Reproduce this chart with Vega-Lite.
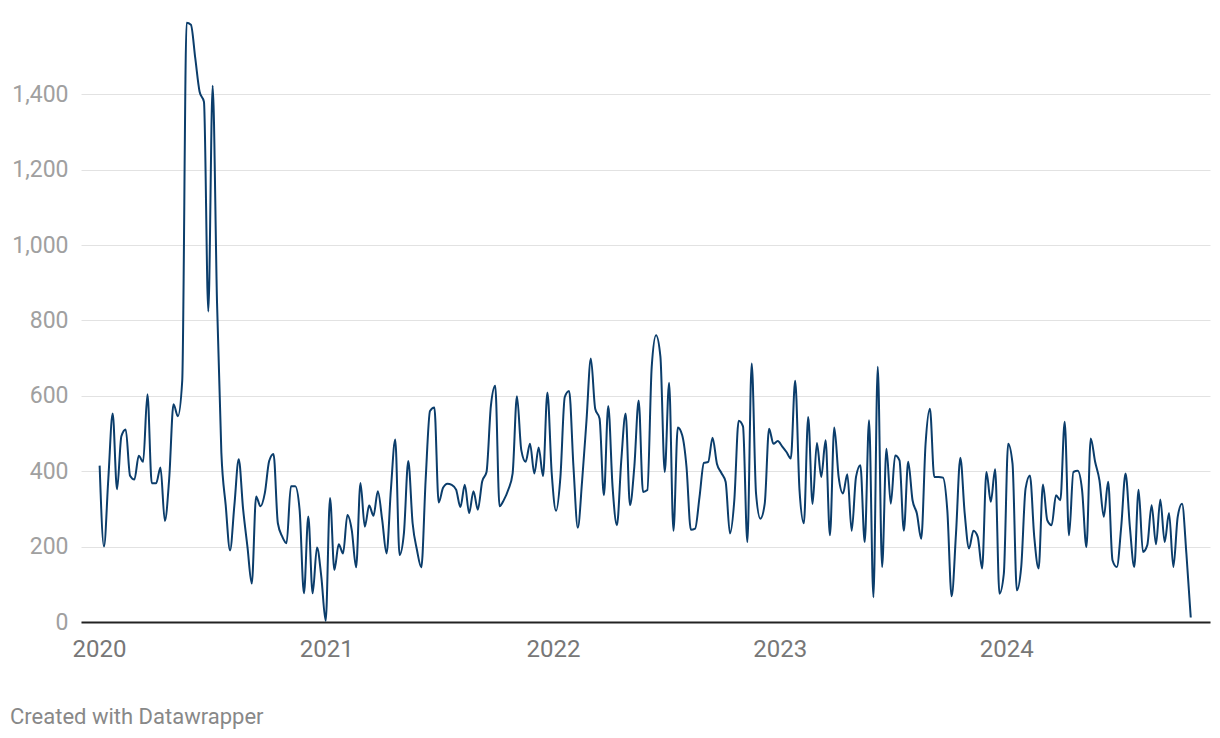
{
 "$schema": "https://vega.github.io/schema/vega-lite/v6.json",
 "width": 1129, "height": 600,
 "autosize": {"type": "none"},
 "padding": {"left": 81, "top": 22, "right": 10, "bottom": 116},
 "background": "white",
 "config": {"view": {"stroke": null}, "font": "Roboto"},
 "title": {"text": "Created with Datawrapper", "orient": "bottom", "anchor": "start", "frame": "group", "dx": -71, "offset": 46, "fontSize": 22, "fontWeight": "normal", "color": "#888888", "font": "Roboto"},
 "data": {"values": [
{"d":"2020-01-02","v":415},{"d":"2020-01-09","v":200},{"d":"2020-01-16","v":380},{"d":"2020-01-23","v":553},{"d":"2020-01-30","v":352},
{"d":"2020-02-06","v":493},{"d":"2020-02-13","v":511},{"d":"2020-02-20","v":388},{"d":"2020-02-27","v":378},
{"d":"2020-03-05","v":441},{"d":"2020-03-12","v":425},{"d":"2020-03-19","v":604},{"d":"2020-03-26","v":368},
{"d":"2020-04-02","v":368},{"d":"2020-04-09","v":410},{"d":"2020-04-16","v":268},{"d":"2020-04-23","v":380},{"d":"2020-04-30","v":578},
{"d":"2020-05-07","v":546},{"d":"2020-05-14","v":640},{"d":"2020-05-21","v":1590},{"d":"2020-05-28","v":1585},
{"d":"2020-06-04","v":1496},{"d":"2020-06-11","v":1407},{"d":"2020-06-18","v":1380},{"d":"2020-06-25","v":824},
{"d":"2020-07-02","v":1423},{"d":"2020-07-09","v":850},{"d":"2020-07-16","v":450},{"d":"2020-07-23","v":310},{"d":"2020-07-30","v":190},
{"d":"2020-08-06","v":310},{"d":"2020-08-13","v":432},{"d":"2020-08-20","v":300},{"d":"2020-08-27","v":200},
{"d":"2020-09-03","v":102},{"d":"2020-09-10","v":333},{"d":"2020-09-17","v":307},{"d":"2020-09-24","v":342},
{"d":"2020-10-01","v":427},{"d":"2020-10-08","v":446},{"d":"2020-10-15","v":262},{"d":"2020-10-22","v":227},{"d":"2020-10-29","v":209},
{"d":"2020-11-05","v":360},{"d":"2020-11-12","v":360},{"d":"2020-11-19","v":298},{"d":"2020-11-26","v":76},
{"d":"2020-12-03","v":280},{"d":"2020-12-10","v":76},{"d":"2020-12-17","v":198},{"d":"2020-12-24","v":120},{"d":"2020-12-31","v":3},
{"d":"2021-01-07","v":329},{"d":"2021-01-14","v":138},{"d":"2021-01-21","v":206},{"d":"2021-01-28","v":182},
{"d":"2021-02-04","v":284},{"d":"2021-02-11","v":244},{"d":"2021-02-18","v":145},{"d":"2021-02-25","v":369},
{"d":"2021-03-04","v":253},{"d":"2021-03-11","v":309},{"d":"2021-03-18","v":282},{"d":"2021-03-25","v":347},
{"d":"2021-04-01","v":271},{"d":"2021-04-08","v":182},{"d":"2021-04-15","v":351},{"d":"2021-04-22","v":484},{"d":"2021-04-29","v":178},
{"d":"2021-05-06","v":236},{"d":"2021-05-13","v":427},{"d":"2021-05-20","v":262},{"d":"2021-05-27","v":191},
{"d":"2021-06-03","v":145},{"d":"2021-06-10","v":378},{"d":"2021-06-17","v":560},{"d":"2021-06-24","v":569},
{"d":"2021-07-01","v":317},{"d":"2021-07-08","v":356},{"d":"2021-07-15","v":367},{"d":"2021-07-22","v":364},{"d":"2021-07-29","v":351},
{"d":"2021-08-05","v":305},{"d":"2021-08-12","v":364},{"d":"2021-08-19","v":289},{"d":"2021-08-26","v":347},
{"d":"2021-09-02","v":298},{"d":"2021-09-09","v":373},{"d":"2021-09-16","v":398},{"d":"2021-09-23","v":573},{"d":"2021-09-30","v":627},
{"d":"2021-10-07","v":307},{"d":"2021-10-14","v":324},{"d":"2021-10-21","v":351},{"d":"2021-10-28","v":394},
{"d":"2021-11-04","v":599},{"d":"2021-11-11","v":456},{"d":"2021-11-18","v":425},{"d":"2021-11-25","v":473},
{"d":"2021-12-02","v":394},{"d":"2021-12-09","v":463},{"d":"2021-12-16","v":387},{"d":"2021-12-23","v":609},{"d":"2021-12-30","v":394},
{"d":"2022-01-06","v":295},{"d":"2022-01-13","v":385},{"d":"2022-01-20","v":597},{"d":"2022-01-27","v":613},
{"d":"2022-02-03","v":412},{"d":"2022-02-10","v":250},{"d":"2022-02-17","v":376},{"d":"2022-02-24","v":535},
{"d":"2022-03-03","v":699},{"d":"2022-03-10","v":566},{"d":"2022-03-17","v":540},{"d":"2022-03-24","v":336},{"d":"2022-03-31","v":573},
{"d":"2022-04-07","v":358},{"d":"2022-04-14","v":257},{"d":"2022-04-21","v":429},{"d":"2022-04-28","v":553},
{"d":"2022-05-05","v":310},{"d":"2022-05-12","v":412},{"d":"2022-05-19","v":588},{"d":"2022-05-26","v":345},
{"d":"2022-06-02","v":350},{"d":"2022-06-09","v":677},{"d":"2022-06-16","v":761},{"d":"2022-06-23","v":704},{"d":"2022-06-30","v":398},
{"d":"2022-07-07","v":635},{"d":"2022-07-14","v":242},{"d":"2022-07-21","v":516},{"d":"2022-07-28","v":496},
{"d":"2022-08-04","v":412},{"d":"2022-08-11","v":245},{"d":"2022-08-18","v":248},{"d":"2022-08-25","v":332},
{"d":"2022-09-01","v":422},{"d":"2022-09-08","v":425},{"d":"2022-09-15","v":489},{"d":"2022-09-22","v":420},{"d":"2022-09-29","v":396},
{"d":"2022-10-06","v":372},{"d":"2022-10-13","v":235},{"d":"2022-10-20","v":323},{"d":"2022-10-27","v":534},
{"d":"2022-11-03","v":519},{"d":"2022-11-10","v":212},{"d":"2022-11-17","v":686},{"d":"2022-11-24","v":341},
{"d":"2022-12-01","v":274},{"d":"2022-12-08","v":314},{"d":"2022-12-15","v":513},{"d":"2022-12-22","v":473},{"d":"2022-12-29","v":480},
{"d":"2023-01-05","v":466},{"d":"2023-01-12","v":451},{"d":"2023-01-19","v":434},{"d":"2023-01-26","v":640},
{"d":"2023-02-02","v":350},{"d":"2023-02-09","v":262},{"d":"2023-02-16","v":544},{"d":"2023-02-23","v":313},
{"d":"2023-03-02","v":475},{"d":"2023-03-09","v":385},{"d":"2023-03-16","v":482},{"d":"2023-03-23","v":230},{"d":"2023-03-30","v":516},
{"d":"2023-04-06","v":385},{"d":"2023-04-13","v":341},{"d":"2023-04-20","v":392},{"d":"2023-04-27","v":242},
{"d":"2023-05-04","v":385},{"d":"2023-05-11","v":416},{"d":"2023-05-18","v":212},{"d":"2023-05-25","v":535},
{"d":"2023-06-01","v":66},{"d":"2023-06-08","v":677},{"d":"2023-06-15","v":146},{"d":"2023-06-22","v":460},{"d":"2023-06-29","v":314},
{"d":"2023-07-06","v":442},{"d":"2023-07-13","v":429},{"d":"2023-07-20","v":242},{"d":"2023-07-27","v":425},
{"d":"2023-08-03","v":323},{"d":"2023-08-10","v":288},{"d":"2023-08-17","v":221},{"d":"2023-08-24","v":473},{"d":"2023-08-31","v":566},
{"d":"2023-09-07","v":385},{"d":"2023-09-14","v":385},{"d":"2023-09-21","v":383},{"d":"2023-09-28","v":296},
{"d":"2023-10-05","v":68},{"d":"2023-10-12","v":235},{"d":"2023-10-19","v":436},{"d":"2023-10-26","v":288},
{"d":"2023-11-02","v":195},{"d":"2023-11-09","v":242},{"d":"2023-11-16","v":226},{"d":"2023-11-23","v":142},{"d":"2023-11-30","v":398},
{"d":"2023-12-07","v":319},{"d":"2023-12-14","v":405},{"d":"2023-12-21","v":75},{"d":"2023-12-28","v":128},
{"d":"2024-01-04","v":473},{"d":"2024-01-11","v":420},{"d":"2024-01-18","v":84},{"d":"2024-01-25","v":146},
{"d":"2024-02-01","v":354},{"d":"2024-02-08","v":389},{"d":"2024-02-15","v":226},{"d":"2024-02-22","v":142},{"d":"2024-02-29","v":365},
{"d":"2024-03-07","v":270},{"d":"2024-03-14","v":257},{"d":"2024-03-21","v":336},{"d":"2024-03-28","v":323},
{"d":"2024-04-04","v":531},{"d":"2024-04-11","v":230},{"d":"2024-04-18","v":398},{"d":"2024-04-25","v":401},
{"d":"2024-05-02","v":350},{"d":"2024-05-09","v":199},{"d":"2024-05-16","v":487},{"d":"2024-05-23","v":425},{"d":"2024-05-30","v":376},
{"d":"2024-06-06","v":279},{"d":"2024-06-13","v":372},{"d":"2024-06-20","v":164},{"d":"2024-06-27","v":146},
{"d":"2024-07-04","v":252},{"d":"2024-07-11","v":394},{"d":"2024-07-18","v":252},{"d":"2024-07-25","v":146},
{"d":"2024-08-01","v":351},{"d":"2024-08-08","v":186},{"d":"2024-08-15","v":204},{"d":"2024-08-22","v":310},{"d":"2024-08-29","v":206},
{"d":"2024-09-05","v":325},{"d":"2024-09-12","v":212},{"d":"2024-09-19","v":289},{"d":"2024-09-26","v":146},
{"d":"2024-10-03","v":279},{"d":"2024-10-10","v":314},{"d":"2024-10-17","v":181},{"d":"2024-10-24","v":12}
 ]},
 "mark": {"type": "line", "interpolate": "monotone", "color": "#0b3d6b", "strokeWidth": 2},
 "encoding": {
  "x": {"field": "d", "type": "temporal",
   "scale": {"type": "utc", "domain": [{"year": 2019, "month": 12, "date": 3, "utc": true}, {"year": 2024, "month": 11, "date": 24, "utc": true}]},
   "axis": {"title": null, "values": [{"year": 2020, "month": 1, "date": 1, "utc": true}, {"year": 2021, "month": 1, "date": 1, "utc": true}, {"year": 2022, "month": 1, "date": 1, "utc": true}, {"year": 2023, "month": 1, "date": 1, "utc": true}, {"year": 2024, "month": 1, "date": 1, "utc": true}],
    "format": "%Y", "labelFontSize": 24, "labelColor": "#777777", "labelFont": "Roboto", "ticks": false, "grid": false, "domainColor": "#222222", "domainWidth": 2, "labelPadding": 15, "labelFlush": false}},
  "y": {"field": "v", "type": "quantitative",
   "scale": {"domain": [0, 1592], "nice": false, "zero": true},
   "axis": {"title": null, "values": [0, 200, 400, 600, 800, 1000, 1200, 1400], "format": ",d", "labelFontSize": 23, "labelColor": "#a0a0a0", "labelFont": "Roboto", "ticks": false, "domain": false, "gridColor": "#e2e2e2", "gridWidth": 1, "labelPadding": 13}}
 }
}
